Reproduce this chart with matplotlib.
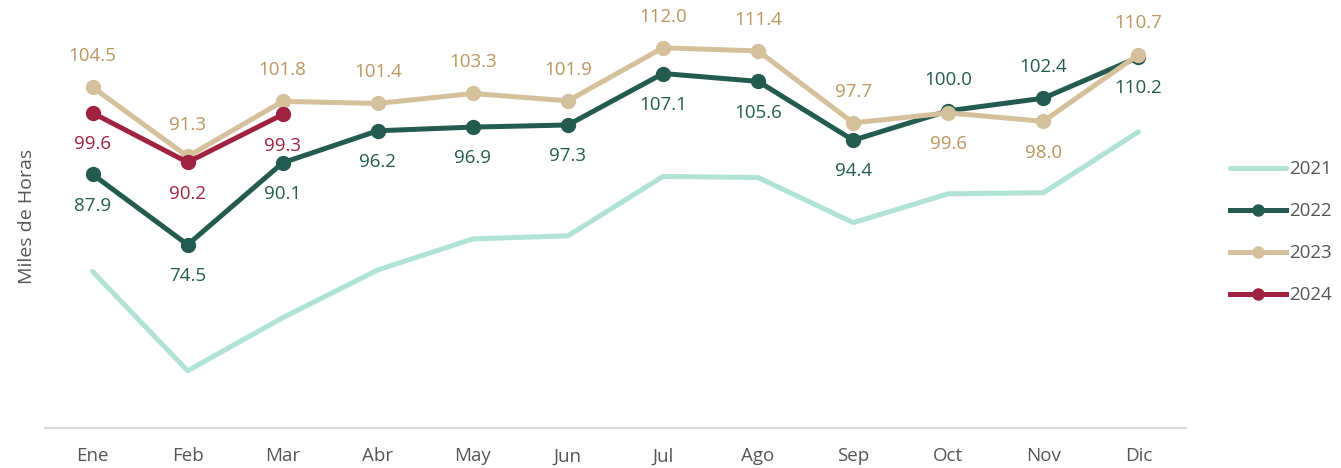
import matplotlib.pyplot as plt

months = ['Ene', 'Feb', 'Mar', 'Abr', 'May', 'Jun', 'Jul', 'Ago', 'Sep', 'Oct', 'Nov', 'Dic']

# 2021 has no labels in the picture, values read off the line positions
v2021 = [69.4, 50.5, 60.6, 69.7, 75.6, 76.2, 87.5, 87.3, 78.7, 84.2, 84.4, 96.0]
v2022 = [87.9, 74.5, 90.1, 96.2, 96.9, 97.3, 107.1, 105.6, 94.4, 100.0, 102.4, 110.2]
v2023 = [104.5, 91.3, 101.8, 101.4, 103.3, 101.9, 112.0, 111.4, 97.7, 99.6, 98.0, 110.7]
v2024 = [99.6, 90.2, 99.3]

# label side: 1 above, -1 below
pos2022 = [-1, -1, -1, -1, -1, -1, -1, -1, -1, 1, 1, -1]
pos2023 = [1, 1, 1, 1, 1, 1, 1, 1, 1, -1, -1, 1]
pos2024 = [-1, -1, -1]

C21, C22, C23, C24 = '#B0E3D6', '#235B4E', '#D4C19C', '#9F2241'
L23 = '#BC955C'

plt.rcParams['font.family'] = ['Open Sans', 'DejaVu Sans']

fig = plt.figure(figsize=(13.41, 4.68), dpi=100)
ax = fig.add_axes([45 / 1341, 40 / 468, 1141 / 1341, 428 / 468])

x = list(range(len(months)))
ax.plot(x, v2021, color=C21, lw=3.6, solid_capstyle='round', label='2021')
ax.plot(x, v2022, color=C22, lw=3.6, marker='o', ms=10, label='2022')
ax.plot(x, v2023, color=C23, lw=3.6, marker='o', ms=10, label='2023')
ax.plot(x[:len(v2024)], v2024, color=C24, lw=3.6, marker='o', ms=10, label='2024')

def labels(vals, sides, col):
    for i, (v, s) in enumerate(zip(vals, sides)):
        ax.annotate('{:.1f}'.format(v), (i, v), xytext=(0, 22.5 * s),
                    textcoords='offset points', ha='center', va='center',
                    fontsize=13.5, color=col)

labels(v2022, pos2022, C22)
labels(v2023, pos2023, L23)
labels(v2024, pos2024, C24)

ax.set_xlim(-0.5, 11.5)
ax.set_ylim(39.6, 121.1)
ax.set_xticks(x)
ax.set_xticklabels(months, fontsize=13.5, color='#555555')
ax.tick_params(axis='x', length=0, pad=14)
ax.set_yticks([])
for s in ['top', 'right', 'left']:
    ax.spines[s].set_visible(False)
ax.spines['bottom'].set_color('#D9D9D9')
ax.spines['bottom'].set_linewidth(1.5)
ax.patch.set_alpha(0)

fig.text(27 / 1341, 1 - 216 / 468, 'Miles de Horas', rotation=90, ha='center',
         va='center', fontsize=14, color='#555555')

fig.legend(loc='upper left', bbox_to_anchor=(1222 / 1341, 1 - 153 / 468),
           frameon=False, fontsize=13.5, labelcolor='#555555', handlelength=3.0,
           handletextpad=0.2, labelspacing=1.28, borderaxespad=0, markerscale=0.8)

fig.savefig('out.png', dpi=100)
